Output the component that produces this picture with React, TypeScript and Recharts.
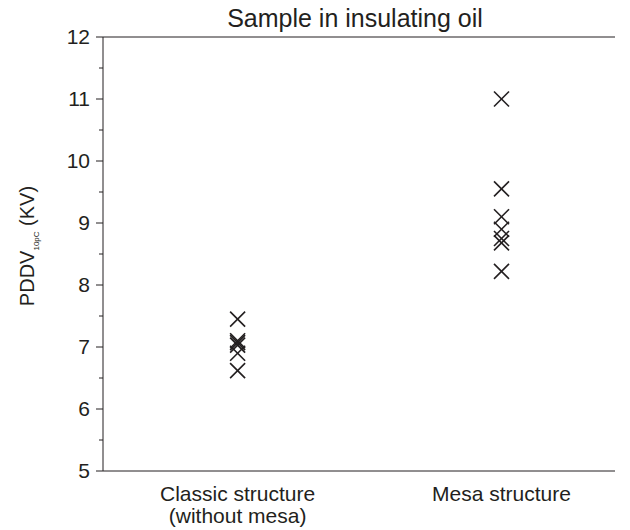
import { ReferenceLine, Scatter, ScatterChart, XAxis, YAxis } from 'recharts';

const categories = ['Classic structure\n(without mesa)', 'Mesa structure'];
const categoryX = [1, 2];
const classicValues = [7.45, 7.1, 7.07, 7.03, 6.9, 6.62];
const mesaValues = [11.0, 9.55, 9.1, 8.9, 8.75, 8.68, 8.22];
const yTicks = [5, 5.5, 6, 6.5, 7, 7.5, 8, 8.5, 9, 9.5, 10, 10.5, 11, 11.5, 12];

const classicData = classicValues.map((v) => ({ x: categoryX[0], y: v }));
const mesaData = mesaValues.map((v) => ({ x: categoryX[1], y: v }));

const FONT = '"Liberation Sans", Arial, sans-serif';
const INK = '#231f20';

const XMark = (props: any) => {
  const { cx, cy } = props;
  const r = 7.5;
  return (
    <g stroke={INK} strokeWidth={1.6}>
      <line x1={cx - r} y1={cy - r} x2={cx + r} y2={cy + r} />
      <line x1={cx - r} y1={cy + r} x2={cx + r} y2={cy - r} />
    </g>
  );
};

const YTick = (props: any) => {
  const { x, y, payload } = props;
  const major = Number.isInteger(payload.value);
  const axisX = x + 8;
  return (
    <g>
      <line x1={axisX - (major ? 7 : 4)} y1={y} x2={axisX} y2={y} stroke={INK} strokeWidth={1} />
      {major && (
        <text x={axisX - 13} y={y} dy={7} textAnchor="end" fontSize={21} fill={INK} fontFamily={FONT}>
          {payload.value}
        </text>
      )}
    </g>
  );
};

const XTick = (props: any) => {
  const { x, y, payload } = props;
  const idx = categoryX.indexOf(payload.value);
  const lines = (categories[idx] || '').split('\n');
  return (
    <text x={x} y={y + 22} textAnchor="middle" fontSize={21} fill={INK} fontFamily={FONT}>
      {lines.map((l, i) => (
        <tspan key={i} x={x} dy={i === 0 ? 0 : 22}>
          {l}
        </tspan>
      ))}
    </text>
  );
};

export default function App() {
  return (
    <div style={{ fontFamily: FONT, marginTop: -8 }}>
      <ScatterChart
        width={622}
        height={530}
        margin={{ top: 37, right: 15, left: 50, bottom: 9 }}
      >
        <text x={347} y={27} textAnchor="middle" fontSize={25} fill={INK} fontFamily={FONT}>
          Sample in insulating oil
        </text>
        <text
          transform="translate(26, 246) rotate(-90)"
          textAnchor="middle"
          fontSize={20}
          fill={INK}
          fontFamily={FONT}
        >
          PDDV
          <tspan fontSize={8} dy={5}>10pC</tspan>
          <tspan dy={-5}> (KV)</tspan>
        </text>
        <XAxis
          type="number"
          dataKey="x"
          domain={[0.49, 2.43]}
          ticks={categoryX}
          tick={<XTick />}
          tickLine={false}
          axisLine={{ stroke: INK, strokeWidth: 1 }}
          height={50}
          allowDataOverflow
        />
        <YAxis
          type="number"
          dataKey="y"
          domain={[5, 12]}
          ticks={yTicks}
          interval={0}
          tick={<YTick />}
          tickLine={false}
          tickSize={0}
          tickMargin={8}
          axisLine={{ stroke: INK, strokeWidth: 1 }}
          width={45}
        />
        <ReferenceLine y={12} stroke={INK} strokeWidth={1} />
        <Scatter data={classicData} shape={<XMark />} isAnimationActive={false} />
        <Scatter data={mesaData} shape={<XMark />} isAnimationActive={false} />
      </ScatterChart>
    </div>
  );
}
